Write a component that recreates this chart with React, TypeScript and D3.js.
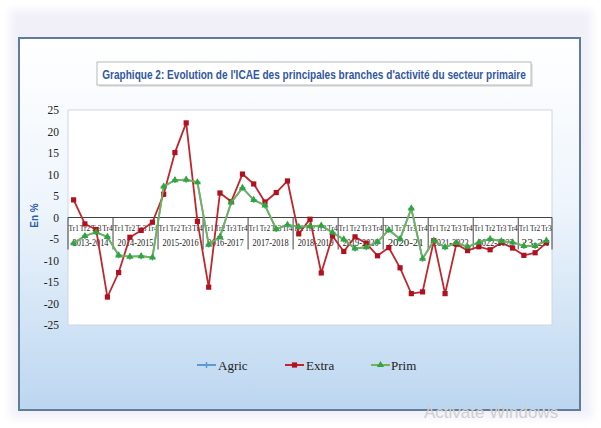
import React from "react";
import * as d3 from "d3";

const years = ["2013-2014", "2014-2015", "2015-2016", "2016-2017", "2017-2018", "2018-2019", "2019-2020", "2020-21", "2021-2022", "2022-2023", "23-24"];
const quartersPerYear = [4, 4, 4, 4, 4, 4, 4, 4, 4, 4, 3];
const quarterNames = ["Tr1", "Tr2", "Tr3", "Tr4"];

const extra = [4.1, -1.5, -2.8, -18.5, -12.8, -4.6, -3.0, -1.1, 5.4, 15.1, 22.0, -0.9, -16.2, 5.7, 3.7, 10.1, 7.8, 3.6, 5.8, 8.5, -3.8, -0.4, -12.9, -4.3, -7.9, -4.5, -6.0, -8.9, -7.0, -11.7, -17.7, -17.3, -5.4, -17.7, -6.2, -7.7, -6.8, -7.5, -5.8, -7.1, -8.8, -8.2, -5.9];
const prim = [-6.0, -4.3, -3.4, -4.5, -8.8, -9.1, -9.0, -9.3, 7.2, 8.7, 8.8, 8.2, -6.3, -4.5, 3.5, 6.9, 4.1, 2.8, -2.7, -1.7, -2.2, -2.0, -1.9, -3.5, -5.1, -7.2, -6.9, -5.7, -2.9, -5.0, 2.1, -9.6, -5.4, -6.9, -5.9, -6.8, -5.8, -5.0, -5.5, -5.8, -6.6, -6.6, -5.4];
const agric = [-6.0, -4.3, -3.4, -4.5, -8.8, -9.1, -9.0, -9.3, 7.2, 8.7, 8.8, 8.2, -6.3, -4.5, 3.5, 6.9, 4.1, 2.8, -2.7, -1.7, -2.2, -2.0, -1.9, -3.5, -5.1, -7.2, -6.9, -5.7, -2.9, -5.0, 2.1, -9.6, -5.4, -6.9, -5.9, -6.8, -5.8, -5.0, -5.5, -5.8, -6.6, -6.6, -5.4];
const yTicks = [25, 20, 15, 10, 5, 0, -5, -10, -15, -20, -25];

const title = "Graphique 2: Evolution de l'ICAE des principales branches d'activité du secteur primaire";

const categories: { year: string; q: string }[] = [];
years.forEach((yr, gi) => {
  for (let k = 0; k < quartersPerYear[gi]; k++) categories.push({ year: yr, q: quarterNames[k] });
});

const RED = "#c0262e";
const RED_M = "#b01020";
const GREEN = "#72b356";
const GREEN_M = "#2fa53a";
const BLUE = "#5b9bd5";

export default function App() {
  const left = 68, right = 552, top = 110, bottom = 325;
  const x = d3.scaleBand<number>().domain(categories.map((_, i) => i)).range([left, right]);
  const y = d3.scaleLinear().domain([-25, 25]).range([bottom, top]);
  const cx = (i: number) => (x(i) as number) + x.bandwidth() / 2;
  const line = d3.line<number>().x((_, i) => cx(i)).y((d) => y(d));
  const y0 = y(0);

  const groups: { year: string; start: number; end: number }[] = [];
  let idx = 0;
  years.forEach((yr, gi) => {
    groups.push({ year: yr, start: idx, end: idx + quartersPerYear[gi] - 1 });
    idx += quartersPerYear[gi];
  });

  const tri = d3.symbol().type(d3.symbolTriangle).size(22)();

  return (
    <svg width={601} height={428} style={{ position: "fixed", left: 0, top: 0, background: "#fff" }}
      fontFamily="'Liberation Serif', 'Times New Roman', serif">
      <defs>
        <linearGradient id="bg" x1="0" y1="0" x2="0" y2="1">
          <stop offset="0" stopColor="#ffffff" />
          <stop offset="0.45" stopColor="#eef5fc" />
          <stop offset="1" stopColor="#bcd6f0" />
        </linearGradient>
        <filter id="glow" x="-10%" y="-10%" width="120%" height="120%">
          <feGaussianBlur stdDeviation="4" />
        </filter>
      </defs>
      <rect x={10} y={10} width={582} height={408} fill="#f1f0f9" filter="url(#glow)" />
      <rect x={19} y={38} width={561} height={372} fill="url(#bg)" stroke="#5f7c99" strokeWidth={2} />

      {/* title */}
      <rect x={99} y={64} width={434} height={23} fill="#d8d8d8" opacity={0.7} />
      <rect x={97} y={62} width={434} height={23} fill="#fff" stroke="#b8b8b8" strokeWidth={1} />
      <text transform="translate(314,78.5) scale(0.84,1)" textAnchor="middle" fontSize={12} fontWeight="bold" fill="#3157a0"
        fontFamily="'Liberation Sans', sans-serif">{title}</text>

      {/* plot area */}
      <rect x={left} y={top} width={right - left} height={bottom - top} fill="#fff" stroke="#cfd6de" strokeWidth={1} />

      {yTicks.map((t) => (
        <text key={t} x={59} y={y(t) + 4} textAnchor="end" fontSize={11.5} fill="#222">{t}</text>
      ))}
      <text transform={`translate(38,${y0 - 2}) rotate(-90)`} textAnchor="middle" fontSize={10} fontWeight="bold" fill="#2e5aa8"
        fontFamily="'Liberation Sans', sans-serif">En %</text>

      {/* category axis at 0 */}
      <line x1={left} x2={right} y1={y0} y2={y0} stroke="#444" strokeWidth={1} />
      {groups.map((g, gi) => {
        const xs = x(g.start) as number;
        const xe = (x(g.end) as number) + x.bandwidth();
        return (
          <g key={g.year}>
            {gi === 0 && <line x1={xs} x2={xs} y1={y0} y2={y0 + 32} stroke="#444" />}
            <line x1={xe} x2={xe} y1={y0} y2={y0 + 32} stroke="#444" />
            <text x={(xs + xe) / 2} y={y0 + 28} textAnchor="middle" fontSize={9.5} fill="#222"
              textLength={Math.min(36, xe - xs - 6)} lengthAdjust="spacingAndGlyphs">{g.year}</text>
          </g>
        );
      })}
      {categories.map((c, i) => (
        <text key={i} x={cx(i)} y={y0 + 13} textAnchor="middle" fontSize={9} fill="#222"
          textLength={10.4} lengthAdjust="spacingAndGlyphs">{c.q}</text>
      ))}

      {/* series */}
      <path d={line(agric) as string} fill="none" stroke={BLUE} strokeWidth={1.8} />
      {agric.map((v, i) => (
        <path key={"a" + i} d={`M${cx(i) - 3},${y(v)}h6M${cx(i)},${y(v) - 3}v6`} stroke={BLUE} strokeWidth={1.5} />
      ))}
      <path d={line(extra) as string} fill="none" stroke={RED} strokeWidth={1.8} />
      {extra.map((v, i) => (
        <rect key={"e" + i} x={cx(i) - 2.6} y={y(v) - 2.6} width={5.2} height={5.2} fill={RED_M} />
      ))}
      <path d={line(prim) as string} fill="none" stroke={GREEN} strokeWidth={1.8} />
      {prim.map((v, i) => (
        <path key={"p" + i} d={tri as string} transform={`translate(${cx(i)},${y(v)})`} fill={GREEN_M} />
      ))}

      {/* legend */}
      <g fontSize={13}>
        <line x1={197} x2={216} y1={365} y2={365} stroke={BLUE} strokeWidth={2} />
        <path d={`M203.5,365h6M206.5,362v6`} stroke={BLUE} strokeWidth={1.5} />
        <text x={218} y={369.5} fill="#222">Agric</text>
        <line x1={285} x2={304} y1={365} y2={365} stroke={RED} strokeWidth={2} />
        <rect x={291.9} y={362.4} width={5.2} height={5.2} fill={RED_M} />
        <text x={306} y={369.5} fill="#222">Extra</text>
        <line x1={371} x2={390} y1={365} y2={365} stroke={GREEN} strokeWidth={2} />
        <path d={tri as string} transform="translate(380.5,365)" fill={GREEN_M} />
        <text x={391} y={369.5} fill="#222">Prim</text>
      </g>

      <text x={424} y={418} fontSize={17} fill="#cfcfcf" fontFamily="'Liberation Sans', sans-serif">Activate Windows</text>
    </svg>
  );
}
